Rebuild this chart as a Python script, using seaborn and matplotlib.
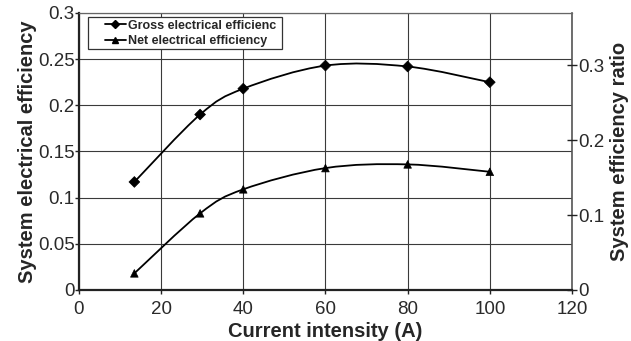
import numpy as np
import pandas as pd
import matplotlib
matplotlib.use("Agg")
import matplotlib.pyplot as plt
import seaborn as sns
from matplotlib.path import Path
from matplotlib.patches import PathPatch, Rectangle
from matplotlib.lines import Line2D

# ---- data ----
current = [13.5, 29.5, 40, 60, 80, 100]
gross = [0.117, 0.190, 0.218, 0.243, 0.242, 0.225]
net = [0.018, 0.083, 0.109, 0.132, 0.136, 0.128]
series_names = ["Gross electrical efficienc", "Net electrical efficiency"]
x_ticks = [0, 20, 40, 60, 80, 100, 120]
y_ticks = [0, 0.05, 0.1, 0.15, 0.2, 0.25, 0.3]
y_tick_labels = ["0", "0.05", "0.1", "0.15", "0.2", "0.25", "0.3"]
y2_ticks = [0, 0.1, 0.2, 0.3]
y2_tick_labels = ["0", "0.1", "0.2", "0.3"]

sns.set_theme(style="white")
plt.rcParams["font.family"] = ["Liberation Sans", "DejaVu Sans"]

fig = plt.figure(figsize=(6.31, 3.41), dpi=100)
ax = fig.add_axes([0.125, 0.1496, 0.7815, 0.8124])

df = pd.DataFrame({
    "current": current * 2,
    "eff": gross + net,
    "series": [series_names[0]] * len(current) + [series_names[1]] * len(current),
})


def smooth_path(xs, ys):
    # Excel-style smoothed line: cubic Bezier through the data points
    pts = np.column_stack([xs, ys]).astype(float)
    n = len(pts)
    verts = [pts[0]]
    codes = [Path.MOVETO]
    for i in range(n - 1):
        p_prev = pts[i - 1] if i > 0 else pts[i]
        p0 = pts[i]
        p1 = pts[i + 1]
        p_next = pts[i + 2] if i + 2 < n else pts[i + 1]
        c1 = p0 + (p1 - p_prev) / 6.0
        c2 = p1 - (p_next - p0) / 6.0
        verts += [c1, c2, p1]
        codes += [Path.CURVE4] * 3
    return Path(verts, codes)


for name, ys in zip(series_names, [gross, net]):
    patch = PathPatch(smooth_path(current, ys), facecolor="none",
                      edgecolor="black", linewidth=1.3, zorder=3)
    ax.add_patch(patch)

sns.scatterplot(data=df, x="current", y="eff", style="series",
                markers={series_names[0]: "D", series_names[1]: "^"},
                color="black", s=30, edgecolor="black", linewidth=0.5,
                legend=False, ax=ax, zorder=4)

ax.set_xlim(0, 120)
ax.set_ylim(0, 0.3)
ax.set_xticks(x_ticks)
ax.set_xticklabels([str(v) for v in x_ticks])
ax.set_yticks(y_ticks)
ax.set_yticklabels(y_tick_labels)
ax.grid(True, color="#3a3a3a", linewidth=0.8)
ax.set_axisbelow(True)

for side in ["left", "bottom"]:
    ax.spines[side].set_color("#222222")
    ax.spines[side].set_linewidth(1.6)
ax.spines["top"].set_color("#666666")
ax.spines["top"].set_linewidth(0.9)
ax.spines["right"].set_color("#555555")
ax.spines["right"].set_linewidth(1.2)

ax.tick_params(axis="both", which="major", direction="out", length=3,
               width=1, color="#222222", labelsize=13.5, pad=0, labelcolor="#2a2a2a")
ax.tick_params(axis="x", bottom=True, pad=5)
ax.tick_params(axis="y", left=True)

ax.set_xlabel("Current intensity (A)", fontsize=14.5, fontweight="bold", labelpad=3)
ax.set_ylabel("System electrical efficiency", fontsize=14.5, fontweight="bold", labelpad=1)

ax2 = ax.twinx()
ax2.set_ylim(0, 0.37)
ax2.set_yticks(y2_ticks)
ax2.set_yticklabels(y2_tick_labels)
ax2.tick_params(axis="y", right=True, direction="inout", length=7, width=1,
                color="#222222", labelsize=13.5, pad=1, labelcolor="#2a2a2a")
for s in ax2.spines.values():
    s.set_visible(False)
ax2.grid(False)
ax2.set_ylabel("System efficiency ratio", fontsize=14.5, fontweight="bold", labelpad=4)

# legend frame (drawn separately to reproduce the wide left margin)
frame = Rectangle((0.018, 0.870), 0.394, 0.116, transform=ax.transAxes,
                  facecolor="white", edgecolor="#333333", linewidth=0.9,
                  zorder=9, clip_on=False)
ax.add_patch(frame)

handles = [
    Line2D([0], [0], color="black", linewidth=1.3, marker="D", markersize=4.5),
    Line2D([0], [0], color="black", linewidth=1.3, marker="^", markersize=5),
]
leg = ax.legend(handles, series_names, loc="upper left",
                bbox_to_anchor=(0.047, 0.985), frameon=False, borderpad=0.2,
                handlelength=1.75, handletextpad=0.15, labelspacing=0.28,
                borderaxespad=0, prop={"size": 9, "weight": "bold"})
leg.set_zorder(10)

fig.savefig("out.png", dpi=100)
